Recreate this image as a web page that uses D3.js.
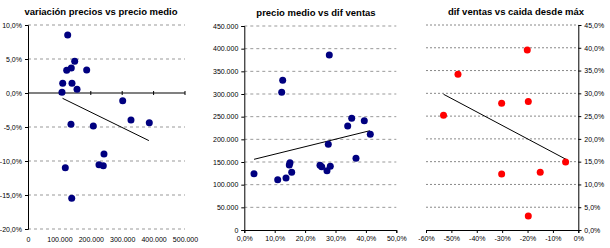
<!DOCTYPE html>
<html>
<head>
<meta charset="utf-8">
<script src="https://cdn.jsdelivr.net/npm/d3@7"></script>
<style>
  body { margin: 0; background: #fff; }
  svg { display: block; font-family: "Liberation Sans", Arial, sans-serif; }
  .tick text { font-size: 7px; fill: #000; }
  .title { font-size: 9.5px; font-weight: bold; text-anchor: middle; }
  .grid line { stroke: #999; stroke-dasharray: 3,3; }
  .grid2 line { stroke: #888; stroke-dasharray: 2,2; }
</style>
</head>
<body>
<div id="chart"></div>
<script>
// panel 1: variación precios vs precio medio
var precioMedio1 = [126400, 148700, 137900, 123200, 186900, 110500, 140100, 156100, 108300, 301600,
                    328000, 386300, 136900, 208000, 242000, 226100, 239800, 118800, 139200];
var varPrecios = [0.0853, 0.0466, 0.0368, 0.0334, 0.0338, 0.0143, 0.0143, 0.0054, 0.001, -0.0113,
                  -0.0397, -0.0437, -0.046, -0.0485, -0.0897, -0.1054, -0.1069, -0.1099, -0.1549];
var trend1X = [110000, 385000], trend1Y = [-0.0078, -0.070];

// panel 2: precio medio vs dif ventas
var difVentas2 = [0.2796, 0.1263, 0.1230, 0.3533, 0.3947, 0.3401, 0.4145, 0.2763, 0.3674, 0.1503,
                  0.1480, 0.2490, 0.2546, 0.2829, 0.2720, 0.1559, 0.0319, 0.1372, 0.1099];
var precioMedio2 = [386000, 330200, 303700, 246300, 241100, 229400, 211100, 189000, 158200, 148500,
                    143400, 142700, 139600, 140500, 130800, 127300, 124200, 114700, 111000];
var trend2X = [0.032, 0.413], trend2Y = [155900, 219000];

// panel 3: dif ventas vs caida desde máx
var caida = [-0.201, -0.474, -0.302, -0.197, -0.531, -0.050, -0.150, -0.302, -0.197];
var difVentas3 = [0.395, 0.342, 0.278, 0.282, 0.252, 0.149, 0.127, 0.123, 0.031];
var trend3X = [-0.531, -0.048], trend3Y = [0.298, 0.155];

var titles = ["variación precios vs precio medio", "precio medio vs dif ventas", "dif ventas vs caida desde máx"];

var loc = d3.formatLocale({decimal: ",", thousands: ".", grouping: [3], currency: ["", "€"], minus: "-"});
var fmtMiles = loc.format(",.0f"),
    fmtPct1 = loc.format(".1%"),
    fmtPct0 = loc.format(".0%");

var svg = d3.select("#chart").append("svg")
    .attr("width", 610)
    .attr("height", 248);

// ---------- panel 1 ----------
var x1 = d3.scaleLinear().domain([0, 500000]).range([28, 185]);
var y1 = d3.scaleLinear().domain([-0.2, 0.1]).range([229, 25]);
var g1 = svg.append("g");

g1.append("g").attr("class", "grid")
  .selectAll("line").data(y1.ticks(6).filter(function(d) { return Math.abs(d) > 1e-9; }))
  .enter().append("line")
    .attr("x1", x1(0)).attr("x2", x1(500000))
    .attr("y1", function(d) { return y1(d); }).attr("y2", function(d) { return y1(d); });

// zero line (x axis crosses at 0)
g1.append("line")
    .attr("x1", x1(0)).attr("x2", x1(500000))
    .attr("y1", y1(0)).attr("y2", y1(0))
    .attr("stroke", "#808080").attr("stroke-width", 2);
g1.selectAll(".xt").data(x1.ticks(5).slice(1))
  .enter().append("line")
    .attr("x1", function(d) { return x1(d); }).attr("x2", function(d) { return x1(d); })
    .attr("y1", y1(0) - 2).attr("y2", y1(0) + 2)
    .attr("stroke", "#000");

var xa1 = g1.append("g").attr("transform", "translate(0,234)")
    .call(d3.axisBottom(x1).ticks(5).tickFormat(function(d) { return d === 0 ? "0" : fmtMiles(d); }).tickSize(0).tickPadding(3));
xa1.select(".domain").remove();

g1.append("g").attr("transform", "translate(" + x1(0) + ",0)")
    .call(d3.axisLeft(y1).ticks(6).tickFormat(fmtPct1).tickSize(3).tickPadding(3))
    .select(".domain").attr("stroke", "#000");

g1.append("line")
    .attr("x1", x1(trend1X[0])).attr("y1", y1(trend1Y[0]))
    .attr("x2", x1(trend1X[1])).attr("y2", y1(trend1Y[1]))
    .attr("stroke", "#000").attr("stroke-width", 1);

g1.selectAll(".dot").data(precioMedio1)
  .enter().append("circle")
    .attr("cx", function(d) { return x1(d); })
    .attr("cy", function(d, i) { return y1(varPrecios[i]); })
    .attr("r", 3.5)
    .attr("fill", "#000080");

g1.append("text").attr("class", "title").attr("x", 101).attr("y", 15).text(titles[0]);

// ---------- panel 2 ----------
var x2 = d3.scaleLinear().domain([0, 0.5]).range([244.3, 396.3]);
var y2 = d3.scaleLinear().domain([0, 450000]).range([230, 26]);
var g2 = svg.append("g");

g2.append("g").attr("class", "grid")
  .selectAll("line").data(y2.ticks(9).slice(1))
  .enter().append("line")
    .attr("x1", x2(0)).attr("x2", x2(0.5))
    .attr("y1", function(d) { return y2(d); }).attr("y2", function(d) { return y2(d); });

g2.append("g").attr("transform", "translate(0," + y2(0) + ")")
    .call(d3.axisBottom(x2).ticks(5).tickFormat(fmtPct1).tickSize(3).tickPadding(3))
    .select(".domain").attr("stroke", "#000");

g2.append("g").attr("transform", "translate(" + x2(0) + ",0)")
    .call(d3.axisLeft(y2).ticks(9).tickFormat(function(d) { return d === 0 ? "0" : fmtMiles(d); }).tickSize(3).tickPadding(3))
    .select(".domain").attr("stroke", "#000");

g2.append("line")
    .attr("x1", x2(trend2X[0])).attr("y1", y2(trend2Y[0]))
    .attr("x2", x2(trend2X[1])).attr("y2", y2(trend2Y[1]))
    .attr("stroke", "#000").attr("stroke-width", 1);

g2.selectAll(".dot").data(difVentas2)
  .enter().append("circle")
    .attr("cx", function(d) { return x2(d); })
    .attr("cy", function(d, i) { return y2(precioMedio2[i]); })
    .attr("r", 3.5)
    .attr("fill", "#000080");

g2.append("text").attr("class", "title").attr("x", 316).attr("y", 16).text(titles[1]);

// ---------- panel 3 ----------
var x3 = d3.scaleLinear().domain([-0.6, 0]).range([426, 578.3]);
var y3 = d3.scaleLinear().domain([0, 0.45]).range([230, 25]);
var g3 = svg.append("g");

g3.append("g").attr("class", "grid2")
  .selectAll("line").data(y3.ticks(9).slice(1))
  .enter().append("line")
    .attr("x1", x3(-0.6)).attr("x2", x3(0))
    .attr("y1", function(d) { return y3(d); }).attr("y2", function(d) { return y3(d); });

g3.append("g").attr("transform", "translate(0," + y3(0) + ")")
    .call(d3.axisBottom(x3).ticks(6).tickFormat(fmtPct0).tickSize(3).tickPadding(3))
    .select(".domain").attr("stroke", "#000");

g3.append("g").attr("transform", "translate(" + x3(0) + ",0)")
    .call(d3.axisRight(y3).ticks(9).tickFormat(fmtPct1).tickSize(3).tickPadding(3))
    .select(".domain").attr("stroke", "#000");

g3.append("line")
    .attr("x1", x3(trend3X[0])).attr("y1", y3(trend3Y[0]))
    .attr("x2", x3(trend3X[1])).attr("y2", y3(trend3Y[1]))
    .attr("stroke", "#000").attr("stroke-width", 1);

g3.selectAll(".dot").data(caida)
  .enter().append("circle")
    .attr("cx", function(d) { return x3(d); })
    .attr("cy", function(d, i) { return y3(difVentas3[i]); })
    .attr("r", 3.5)
    .attr("fill", "#ff0000");

g3.append("text").attr("class", "title").attr("x", 516).attr("y", 15).text(titles[2]);
</script>
</body>
</html>
